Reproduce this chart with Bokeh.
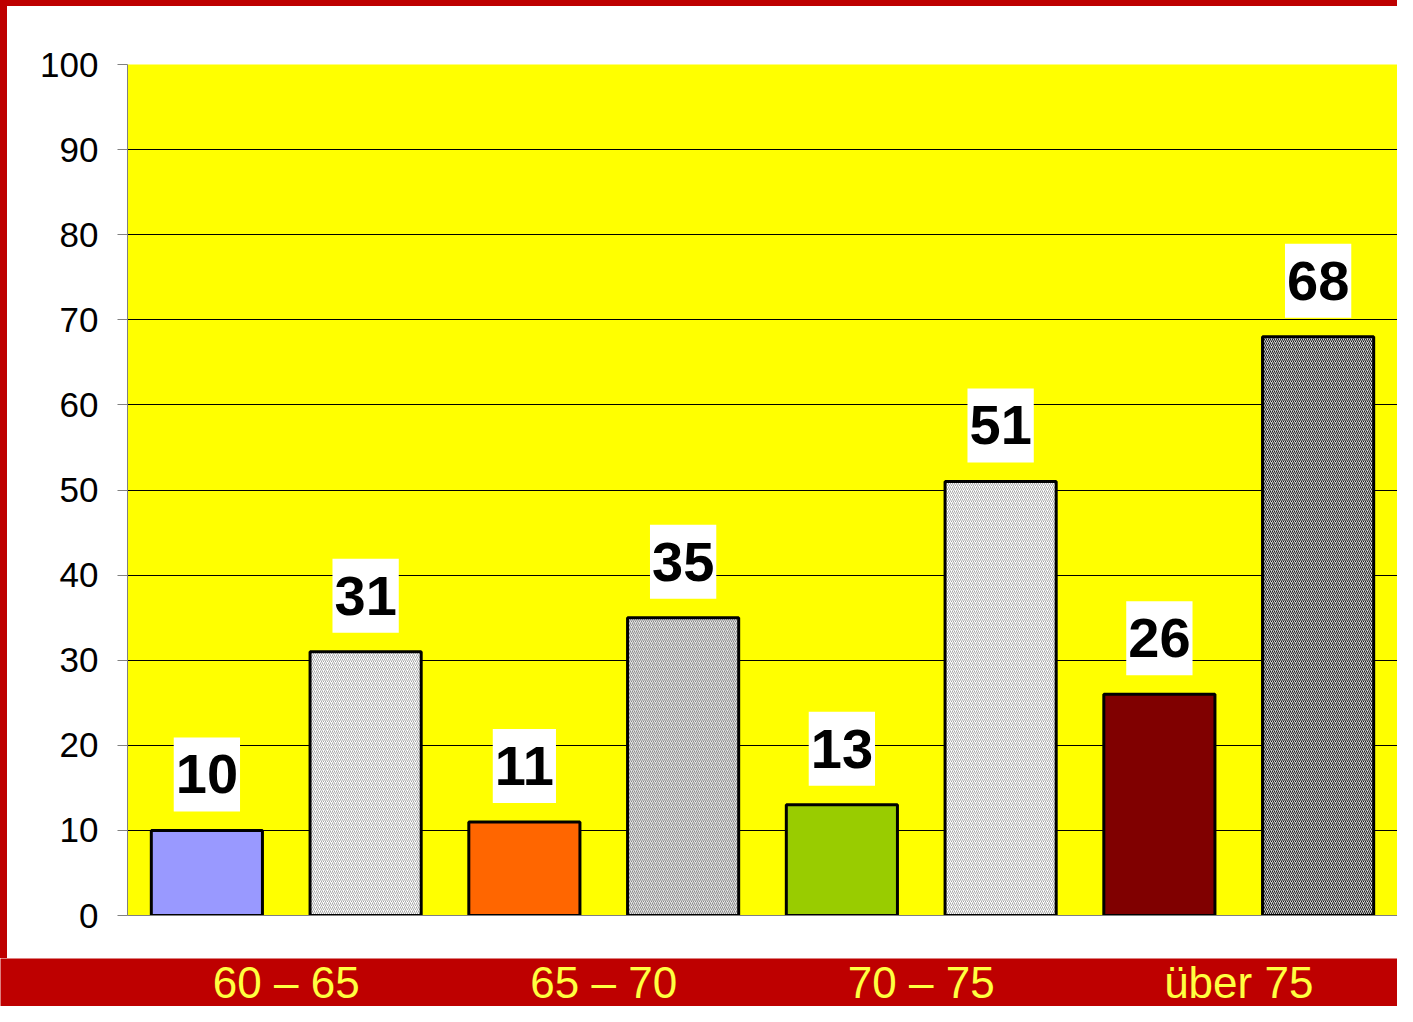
from bokeh.plotting import figure
from bokeh.models import ColumnDataSource, Label, FixedTicker, Range1d, Div
from bokeh.layouts import column, row
from bokeh.core.properties import value
from bokeh.embed import file_html
from bokeh.resources import INLINE

# ---- data ----
categories = ["60 – 65", "65 – 70", "70 – 75", "über 75"]
values = [10, 31, 11, 35, 13, 51, 26, 68]
y_ticks = [0, 10, 20, 30, 40, 50, 60, 70, 80, 90, 100]

# ---- styles ----
fill_colors = ["#9999FF", "#FFFFFF", "#FF6600", "#E4E4E4", "#99CC00", "#FFFFFF", "#800000", "#D0D0D0"]
hatch_patterns = [" ", "/", " ", "/", " ", "/", " ", "/"]
hatch_colors = ["#000000", "#A8A8A8", "#000000", "#8C8C8C", "#000000", "#A8A8A8", "#000000", "#202020"]

FONT = "Liberation Sans"
RED = "#BE0000"
TOTAL_W, TOTAL_H = 1397, 1006
STRIP_T, STRIP_L = 6, 7
BAND_H = 48
MAIN_W = TOTAL_W - STRIP_L
MAIN_H = TOTAL_H - STRIP_T - BAND_H
FRAME_LEFT = 120  # inside main figure
FRAME_TOP = 58
FRAME_BOTTOM = MAIN_H - 909
n = len(values)


def strip(w, h):
    return Div(text="", width=w, height=h, margin=0,
               styles={"background-color": RED, "width": f"{w}px", "height": f"{h}px"})


xs = [i + 0.5 for i in range(n)]
src = ColumnDataSource(dict(x=xs, top=values, fill=fill_colors,
                            hp=hatch_patterns, hc=hatch_colors))

p = figure(width=MAIN_W, height=MAIN_H, x_range=Range1d(0, n), y_range=Range1d(0, 100),
           output_backend="svg", toolbar_location=None,
           min_border_left=FRAME_LEFT, min_border_right=0, min_border_top=FRAME_TOP,
           min_border_bottom=FRAME_BOTTOM,
           background_fill_color="#FFFF00", border_fill_color="white", outline_line_color=None)

p.vbar(x="x", top="top", bottom=0, width=0.70, source=src, fill_color="fill",
       line_color="black", line_width=3, hatch_pattern="hp", hatch_color="hc",
       hatch_scale=4, hatch_weight=1)

for x, v in zip(xs, values):
    p.add_layout(Label(x=x, y=v, text=str(v), text_align="center", text_baseline="alphabetic",
                       y_offset=56, text_font=FONT, text_font_size="56px", text_font_style="bold",
                       text_color="black", background_fill_color="white",
                       padding=dict(left=2, right=2, top=18, bottom=18)))

p.ygrid.ticker = FixedTicker(ticks=y_ticks)
p.ygrid.grid_line_color = "black"
p.ygrid.grid_line_width = 1
p.xgrid.grid_line_color = None

p.yaxis.ticker = FixedTicker(ticks=y_ticks)
p.yaxis.axis_line_color = "#808080"
p.yaxis.major_tick_line_color = "#808080"
p.yaxis.major_tick_out = 10
p.yaxis.major_tick_in = 0
p.yaxis.minor_tick_line_color = None
p.yaxis.major_label_standoff = 19
p.yaxis.major_label_text_font = FONT
p.yaxis.major_label_text_font_size = "35px"
p.yaxis.major_label_text_color = "black"

p.xaxis.ticker = FixedTicker(ticks=[])
p.xaxis.axis_line_color = "#808080"
p.xaxis.major_tick_line_color = None
p.xaxis.minor_tick_line_color = None

# ---- red band with category labels (frame spans full width; range aligned with main plot) ----
unit = (MAIN_W - FRAME_LEFT) / n
left_px = STRIP_L + FRAME_LEFT
band = figure(width=TOTAL_W, height=BAND_H,
              x_range=Range1d(-left_px / unit, (TOTAL_W - left_px) / unit), y_range=Range1d(0, 1),
              output_backend="svg", toolbar_location=None, min_border=0,
              background_fill_color=RED, border_fill_color=RED, outline_line_color=None)
band.axis.visible = False
band.grid.visible = False
band.text(x=[2 * i + 1 for i in range(len(categories))], y=[0.5] * len(categories), text=categories,
          text_color="#FFFF40", text_font=value(FONT), text_font_size="44px",
          text_align="center", text_baseline="middle")

layout = column(strip(TOTAL_W, STRIP_T), row(strip(STRIP_L, MAIN_H), p, spacing=0), band, spacing=0)
open("out.html", "w").write(file_html(layout, INLINE))
